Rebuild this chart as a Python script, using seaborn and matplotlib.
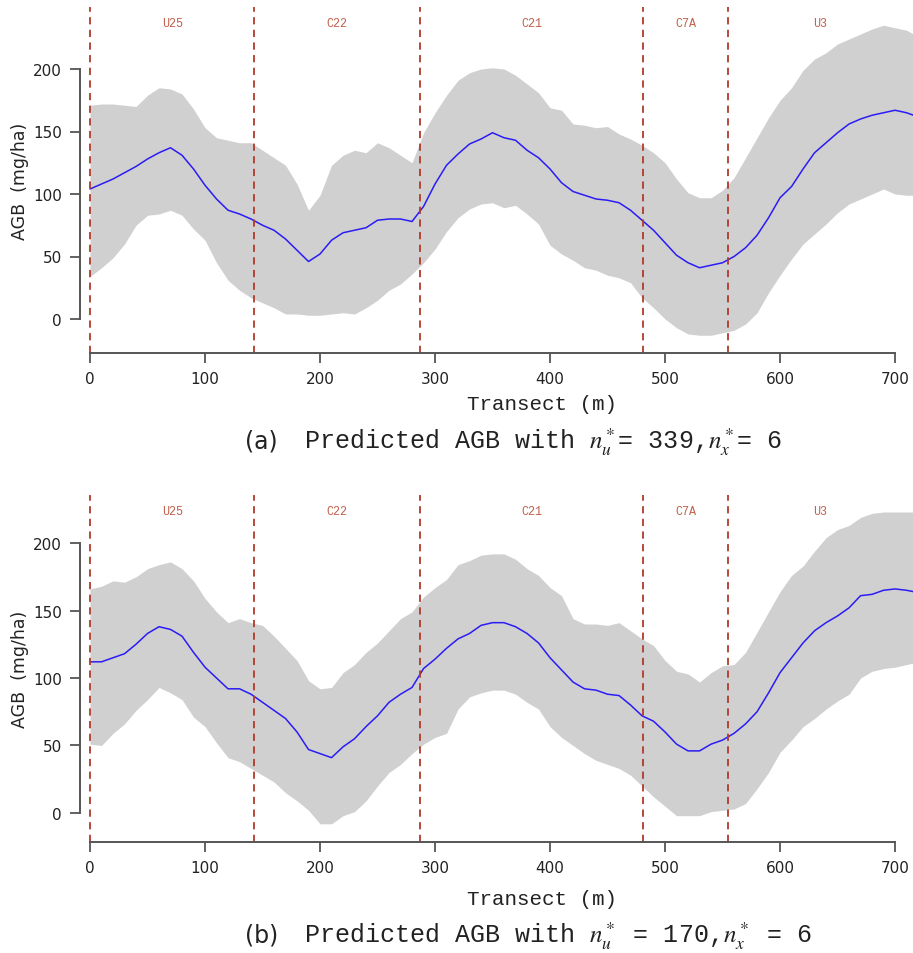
import numpy as np
import pandas as pd
import matplotlib
matplotlib.use("Agg")
import matplotlib.pyplot as plt
import seaborn as sns

# transect positions (m)
transect = [0, 10, 20, 30, 40, 50, 60, 70, 80, 90, 100, 110, 120, 130, 140, 150, 160, 170,
            180, 190, 200, 210, 220, 230, 240, 250, 260, 270, 280, 290, 300, 310, 320, 330,
            340, 350, 360, 370, 380, 390, 400, 410, 420, 430, 440, 450, 460, 470, 480, 490,
            500, 510, 520, 530, 540, 550, 560, 570, 580, 590, 600, 610, 620, 630, 640, 650,
            660, 670, 680, 690, 700, 710, 716]

# panel (a): n_u* = 339
mean_a = [104, 108, 112, 117, 122, 128, 133, 137, 131, 120, 107, 96, 87, 84, 80, 75, 71, 64,
          55, 46, 52, 63, 69, 71, 73, 79, 80, 80, 78, 90, 108, 123, 132, 140,
          144, 149, 145, 143, 135, 129, 120, 109, 102, 99, 96, 95, 93, 87, 79, 71,
          61, 51, 45, 41, 43, 45, 50, 57, 67, 81, 97, 106, 120, 133, 141, 149,
          156, 160, 163, 165, 167, 165, 163]
upper_a = [171, 172, 172, 171, 170, 179, 185, 184, 180, 168, 153, 145, 143, 141, 141, 135, 129, 123,
           108, 87, 99, 123, 131, 135, 133, 141, 137, 131, 125, 149, 165, 179, 191, 197,
           200, 201, 200, 195, 188, 181, 169, 167, 156, 155, 153, 154, 148, 144, 139, 133,
           125, 112, 101, 97, 97, 103, 113, 129, 145, 161, 175, 185, 199, 208, 213, 220,
           224, 228, 232, 235, 233, 231, 228]
lower_a = [34, 41, 49, 60, 75, 83, 84, 87, 83, 72, 63, 45, 31, 23, 17, 13, 9, 4,
           4, 3, 3, 4, 5, 4, 9, 15, 23, 28, 36, 45, 56, 70, 81, 88,
           92, 93, 89, 91, 84, 76, 59, 52, 47, 41, 39, 35, 33, 29, 17, 9,
           0, -7, -12, -13, -13, -11, -9, -4, 5, 21, 35, 48, 60, 68, 76, 85,
           92, 96, 100, 104, 100, 99, 99]

# panel (b): n_u* = 170
mean_b = [112, 112, 115, 118, 125, 133, 138, 136, 131, 119, 108, 100, 92, 92, 88, 82, 76, 70,
          60, 47, 44, 41, 49, 55, 64, 72, 82, 88, 93, 107, 114, 122, 129, 133,
          139, 141, 141, 138, 133, 126, 115, 106, 97, 92, 91, 88, 87, 80, 72, 68,
          60, 51, 46, 46, 51, 54, 59, 66, 75, 89, 104, 115, 126, 135, 141, 146,
          152, 161, 162, 165, 166, 165, 164]
upper_b = [166, 168, 172, 171, 175, 181, 184, 186, 181, 172, 159, 149, 141, 144, 141, 139, 131, 122,
           113, 98, 92, 93, 104, 110, 119, 126, 135, 144, 149, 160, 167, 173, 184, 187,
           191, 192, 192, 188, 181, 176, 167, 161, 144, 140, 140, 139, 141, 135, 129, 124,
           113, 105, 103, 97, 104, 109, 110, 119, 134, 149, 164, 176, 183, 194, 204, 210,
           213, 219, 222, 223, 223, 223, 223]
lower_b = [51, 50, 59, 66, 76, 84, 93, 89, 84, 71, 64, 52, 41, 38, 33, 28, 23, 15,
           9, 2, -8, -8, -2, 1, 9, 20, 30, 36, 44, 51, 56, 59, 77, 86,
           89, 91, 91, 88, 82, 77, 64, 56, 50, 44, 39, 36, 33, 28, 20, 12,
           5, -2, -2, -2, 1, 2, 3, 7, 18, 30, 45, 54, 64, 70, 77, 83,
           88, 100, 105, 107, 108, 110, 111]

# plot boundaries along the transect
boundaries = [0, 143, 287, 481, 555]
plots = ["U25", "C22", "C21", "C7A", "U3"]
plot_centres = [71.5, 215, 384, 518, 635]

xticks = [0, 100, 200, 300, 400, 500, 600, 700]
yticks = [0, 50, 100, 150, 200]

sns.set_style("ticks")
plt.rcParams["mathtext.fontset"] = "stix"
plt.rcParams["font.family"] = ["DejaVu Sans"]

fig = plt.figure(figsize=(9.13, 9.54), dpi=100)
ax_a = fig.add_axes([80 / 913, 1 - 354 / 954, 833 / 913, 346 / 954])
ax_b = fig.add_axes([80 / 913, 1 - 843 / 954, 833 / 913, 347 / 954])

panels = [
    (ax_a, mean_a, upper_a, lower_a, (-27.2, 249.6)),
    (ax_b, mean_b, upper_b, lower_b, (-21.5, 235.6)),
]

for ax, mean, upper, lower, ylim in panels:
    df = pd.DataFrame({"Transect": transect, "AGB": mean, "lo": lower, "hi": upper})
    ax.fill_between(df["Transect"], df["lo"], df["hi"], color="#d0d0d0", lw=0)
    sns.lineplot(data=df, x="Transect", y="AGB", ax=ax, color="#2a1cf5", lw=1.1)
    for b in boundaries:
        ax.axvline(b, color="#b03a2a", lw=1.3, ls=(0, (4, 3)))
    top = ylim[1]
    for name, c in zip(plots, plot_centres):
        ax.text(c, top - 0.045 * (ylim[1] - ylim[0]), name, ha="center", va="center",
                color="#c0604c", fontsize=8.5, family="Liberation Mono")
    ax.set_xlim(-8.7, 715.6)
    ax.set_ylim(*ylim)
    ax.set_xticks(xticks)
    ax.set_yticks(yticks)
    for s in ["top", "right"]:
        ax.spines[s].set_visible(False)
    ax.spines["left"].set_bounds(0, 200)
    ax.spines["bottom"].set_bounds(0, 700)
    for s in ["left", "bottom"]:
        ax.spines[s].set_color("#555555")
        ax.spines[s].set_linewidth(1.4)
    ax.tick_params(axis="both", direction="out", length=7, width=1.3, color="#555555",
                   labelsize=11, labelcolor="#222222", pad=6, bottom=True, left=True)
    ax.set_xlabel("")
    ax.set_ylabel("AGB  (mg/ha)", fontsize=12.5, color="#222222", labelpad=3)

for yy in [405, 900]:
    fig.text(542 / 913, 1 - yy / 954, "Transect (m)", ha="center", va="center",
             fontsize=15, family="Liberation Mono", color="#222222")

captions = [
    (442, "(a)", r"Predicted AGB with $n_u^*$= 339,$n_x^*$= 6"),
    (936, "(b)", r"Predicted AGB with $n_u^*$ = 170,$n_x^*$ = 6"),
]
for yy, tag, rest in captions:
    fig.text(245 / 913, 1 - yy / 954, tag, ha="left", va="center",
             fontsize=17, family="DejaVu Sans", color="#222222")
    fig.text(304 / 913, 1 - yy / 954, rest, ha="left", va="center",
             fontsize=18, family="Liberation Mono", color="#222222")

fig.savefig("out.png", dpi=100)
